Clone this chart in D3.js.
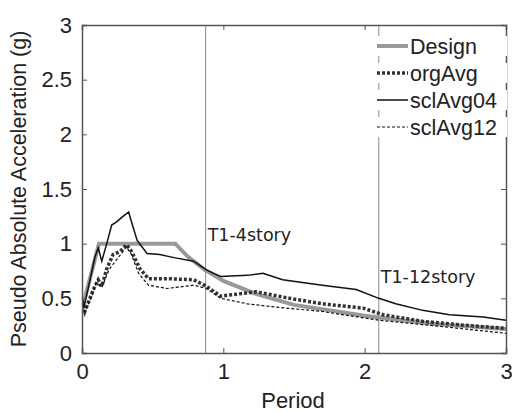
<!DOCTYPE html>
<html lang="en">
<head>
<meta charset="UTF-8">
<title>Spectra</title>
<script src="https://cdn.jsdelivr.net/npm/d3@7"></script>
<style>
  body { margin: 0; background: #fff; }
  text { font-family: "Liberation Sans", Arial, sans-serif; fill: #222; }
</style>
</head>
<body>
<script>
  const width = 512, height = 413;
  const margin = {left: 82, right: 6, top: 25, bottom: 60};

  // periods / values
  const design = [[0,0.4],[0.12,1.0],[0.66,1.0],[0.75,0.88],[0.87,0.76],[1.0,0.66],[1.23,0.54],[1.5,0.44],[2.0,0.34],[2.5,0.265],[3.0,0.22]];
  const orgAvg = [[0,0.48],[0.02,0.38],[0.08,0.58],[0.115,0.67],[0.14,0.61],[0.175,0.77],[0.22,0.9],[0.27,0.93],[0.315,0.99],[0.35,0.93],[0.41,0.77],[0.47,0.68],[0.6,0.68],[0.79,0.67],[0.88,0.61],[0.98,0.52],[1.17,0.55],[1.23,0.56],[1.47,0.5],[1.7,0.45],[1.99,0.41],[2.13,0.35],[2.41,0.29],[2.65,0.26],[3.0,0.225]];
  const sclAvg04 = [[0,0.515],[0.014,0.42],[0.057,0.67],[0.092,0.88],[0.115,0.96],[0.14,0.84],[0.175,1.0],[0.21,1.17],[0.245,1.2],[0.29,1.25],[0.33,1.29],[0.35,1.2],[0.39,1.03],[0.46,0.91],[0.55,0.9],[0.66,0.87],[0.79,0.84],[0.88,0.76],[0.98,0.7],[1.17,0.71],[1.28,0.73],[1.42,0.67],[1.7,0.62],[1.94,0.58],[2.1,0.5],[2.22,0.45],[2.41,0.39],[2.6,0.35],[2.84,0.33],[3.0,0.3]];
  const sclAvg12 = [[0,0.44],[0.02,0.38],[0.07,0.52],[0.1,0.64],[0.14,0.6],[0.19,0.76],[0.26,0.88],[0.315,0.97],[0.35,0.9],[0.4,0.73],[0.47,0.62],[0.6,0.59],[0.79,0.62],[0.88,0.59],[0.98,0.5],[1.17,0.45],[1.37,0.42],[1.7,0.38],[2.1,0.3],[2.41,0.26],[3.0,0.18]];
  const periodsT1 = [{T: 0.875, label: "T1-4story", y: 1.02}, {T: 2.1, label: "T1-12story", y: 0.64}];
  const xTicks = [0, 1, 2, 3];
  const yTicks = [0, 0.5, 1, 1.5, 2, 2.5, 3];

  const series = [
    {name: "Design", data: design, color: "#999", w: 4, dash: null},
    {name: "orgAvg", data: orgAvg, color: "#333", w: 3.5, dash: "3,2"},
    {name: "sclAvg04", data: sclAvg04, color: "#111", w: 1.5, dash: null},
    {name: "sclAvg12", data: sclAvg12, color: "#111", w: 1.2, dash: "3,2"}
  ];

  const svg = d3.select("body").append("svg").attr("width", width).attr("height", height);
  const x = d3.scaleLinear().domain([0, 3]).range([margin.left, width - margin.right]);
  const y = d3.scaleLinear().domain([0, 3]).range([height - margin.bottom, margin.top]);

  svg.append("clipPath").attr("id", "clip").append("rect")
     .attr("x", x(0)).attr("y", y(3)).attr("width", x(3) - x(0)).attr("height", y(0) - y(3));

  // T1 reference lines
  svg.selectAll(".tline").data(periodsT1).join("line")
     .attr("x1", d => x(d.T)).attr("x2", d => x(d.T))
     .attr("y1", y(3)).attr("y2", y(0))
     .attr("stroke", "#888").attr("stroke-width", 1);
  svg.selectAll(".tlab").data(periodsT1).join("text")
     .attr("x", d => x(d.T) + 2).attr("y", d => y(d.y))
     .attr("font-size", 17.5).style("font-family", "'DejaVu Sans', sans-serif")
     .text(d => d.label);

  const line = d3.line().x(d => x(d[0])).y(d => y(d[1]));
  const g = svg.append("g").attr("clip-path", "url(#clip)");
  g.selectAll("path").data(series).join("path")
   .attr("d", d => line(d.data))
   .attr("fill", "none")
   .attr("stroke", d => d.color)
   .attr("stroke-width", d => d.w)
   .attr("stroke-dasharray", d => d.dash);

  // axes, ticks inward on all sides
  const axisColor = "#555";
  const tk = 5;
  const axes = [
    d3.axisBottom(x).tickValues(xTicks).tickSize(-tk).tickPadding(10).tickFormat(d => d),
    d3.axisTop(x).tickValues(xTicks).tickSize(-tk).tickFormat(""),
    d3.axisLeft(y).tickValues(yTicks).tickSize(-tk).tickPadding(10).tickFormat(d => d),
    d3.axisRight(y).tickValues(yTicks).tickSize(-tk).tickFormat("")
  ];
  const trans = [[0, y(0)], [0, y(3)], [x(0), 0], [x(3), 0]];
  axes.forEach((a, i) => {
    const ag = svg.append("g").attr("transform", `translate(${trans[i]})`).call(a);
    ag.select(".domain").attr("stroke", axisColor).attr("stroke-width", 1.5);
    ag.selectAll(".tick line").attr("stroke", axisColor);
    ag.selectAll(".tick text").attr("font-size", 22).style("font-family", "'Liberation Sans', Arial, sans-serif").attr("fill", "#222");
  });

  svg.append("text").attr("x", 293).attr("y", 408).attr("text-anchor", "middle")
     .attr("font-size", 22).text("Period");
  svg.append("text").attr("transform", `translate(26,${(y(0) + y(3)) / 2}) rotate(-90)`)
     .attr("text-anchor", "middle").attr("font-size", 21.5)
     .text("Pseudo Absolute Acceleration (g)");

  // legend
  const lg = svg.append("g").attr("transform", "translate(377,46)");
  const rows = lg.selectAll("g").data(series).join("g").attr("transform", (d, i) => `translate(0,${i * 27})`);
  rows.append("rect").attr("x", 0).attr("y", -10).attr("width", 130).attr("height", 20).attr("fill", "#fff");
  rows.append("line").attr("x1", 0).attr("x2", 31).attr("y1", 0).attr("y2", 0)
      .attr("stroke", d => d.color).attr("stroke-width", d => d.w).attr("stroke-dasharray", d => d.dash);
  rows.append("text").attr("x", 33).attr("y", 0).attr("dy", "0.35em").attr("font-size", 21.5).text(d => d.name);
</script>
</body>
</html>
